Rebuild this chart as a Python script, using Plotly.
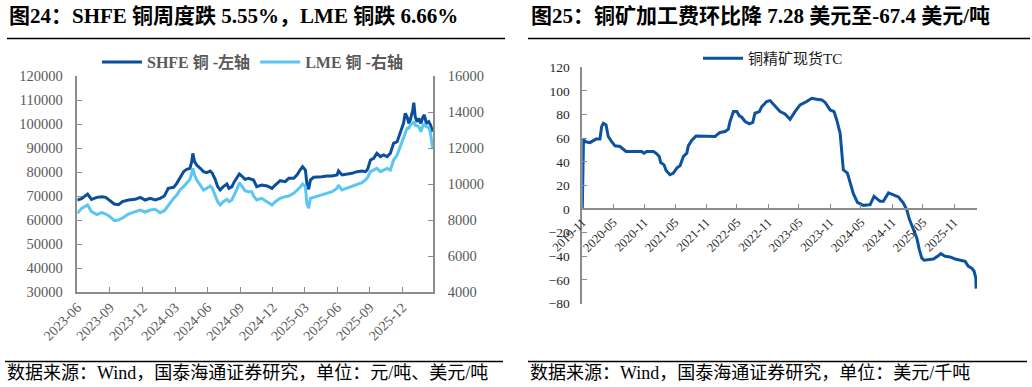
import plotly.graph_objects as go

W, H = 1032, 387


def fx(px):
    return px / W


def fy(py):
    return 1 - py / H


# ---------------- data: left chart (图24) ----------------
copper_dates = [
    "2023-06-30", "2023-07-12", "2023-07-29", "2023-08-09", "2023-08-24", "2023-09-07",
    "2023-09-18", "2023-09-30", "2023-10-12", "2023-10-24", "2023-11-04", "2023-11-21",
    "2023-12-10", "2023-12-24", "2024-01-07", "2024-01-21", "2024-02-04", "2024-02-18",
    "2024-03-01", "2024-03-12", "2024-03-27", "2024-04-05", "2024-04-14", "2024-04-24",
    "2024-05-03", "2024-05-12", "2024-05-17", "2024-05-20", "2024-05-25", "2024-05-31",
    "2024-06-10", "2024-06-19", "2024-06-28", "2024-07-08", "2024-07-14", "2024-07-22",
    "2024-07-29", "2024-08-05", "2024-08-14", "2024-08-24", "2024-08-30", "2024-09-07",
    "2024-09-14", "2024-09-21", "2024-09-28", "2024-10-05", "2024-10-14", "2024-10-24",
    "2024-11-02", "2024-11-07", "2024-11-16", "2024-11-30", "2024-12-15", "2024-12-29",
    "2025-01-07", "2025-01-21", "2025-02-04", "2025-02-14", "2025-02-28", "2025-03-09",
    "2025-03-18", "2025-03-25", "2025-04-02", "2025-04-06", "2025-04-11", "2025-04-16",
    "2025-04-25", "2025-05-04", "2025-05-18", "2025-06-02", "2025-06-16", "2025-06-30",
    "2025-07-04", "2025-07-14", "2025-07-28", "2025-08-11", "2025-08-25", "2025-09-08",
    "2025-09-18", "2025-09-24", "2025-10-02", "2025-10-11", "2025-10-20", "2025-10-30",
    "2025-11-08", "2025-11-18", "2025-11-27", "2025-12-06", "2025-12-16", "2025-12-25",
    "2026-01-03", "2026-01-08", "2026-01-13", "2026-01-18", "2026-01-22", "2026-01-29",
    "2026-02-01", "2026-02-05", "2026-02-10", "2026-02-15", "2026-02-21", "2026-02-27",
    "2026-03-03", "2026-03-08", "2026-03-15", "2026-03-20", "2026-03-26",
]
shfe_values = [
    68330, 68890, 70830, 68610, 69440, 69720,
    69440, 68050, 66660, 66380, 67640, 68330,
    68610, 69440, 68330, 69020, 68330, 69020,
    69990, 73190, 73610, 75280, 77780, 80140,
    81110, 81530, 84300, 87780, 84300, 82910,
    81530, 80140, 79720, 80410, 79440, 76940,
    73890, 72500, 73890, 75000, 73190, 73890,
    75970, 77360, 79160, 78330, 76940, 77360,
    76940, 76660, 73890, 74580, 74170, 73190,
    74580, 76390, 75970, 77360, 77360, 78750,
    80830, 82220, 80830, 75280, 72780, 76660,
    77780, 77780, 78050, 78330, 78330, 78750,
    80420, 78750, 79030, 79440, 80140, 80420,
    80140, 81110, 85000, 85690, 87780, 86390,
    87080, 86390, 87780, 91940, 92640, 96110,
    100280, 104440, 103050, 100280, 101670, 105830,
    108890, 103050, 100970, 102360, 100280, 103050,
    103750, 100280, 100970, 99580, 96800,
]
lme_values = [
    8370, 8647, 8833, 8462, 8296, 8407,
    8333, 8185, 7962, 8000, 8111, 8333,
    8462, 8555, 8444, 8555, 8592, 8407,
    8518, 8833, 9203, 9388, 9666, 9851,
    10036, 10259, 10592, 10870, 10500, 10222,
    9944, 9666, 9759, 9888, 9759, 9388,
    9018, 8833, 9018, 9148, 9018, 9111,
    9388, 9703, 10074, 9851, 9629, 9574,
    9574, 9333, 9111, 9203, 9018, 8833,
    9018, 9203, 9296, 9333, 9481, 9629,
    9814, 10000, 9851, 8925, 8647, 9203,
    9259, 9333, 9388, 9481, 9574, 9759,
    9944, 9666, 9759, 9851, 9944, 10074,
    10222, 10370, 10685, 10777, 10870, 10685,
    10777, 10870, 10777, 11333, 11611, 12074,
    12537, 12815, 13092, 13092, 13277, 13370,
    13462, 13277, 13222, 13185, 12907, 13277,
    13314, 13185, 13148, 12815, 11981,
]
left_tick_dates = [
    "2023-06-30", "2023-09-30", "2023-12-31", "2024-03-31", "2024-06-30", "2024-09-30",
    "2024-12-31", "2025-03-31", "2025-06-30", "2025-09-30", "2025-12-31",
]
left_tick_text = [
    "2023-06", "2023-09", "2023-12", "2024-03", "2024-06", "2024-09",
    "2024-12", "2025-03", "2025-06", "2025-09", "2025-12",
]

# ---------------- data: right chart (图25) ----------------
tc_dates = [
    "2019-11-01", "2019-11-08", "2019-11-17", "2019-12-16", "2020-01-21", "2020-02-13",
    "2020-02-23", "2020-03-04", "2020-03-20", "2020-04-02", "2020-04-22", "2020-05-12",
    "2020-06-10", "2020-06-30", "2020-07-16", "2020-08-28", "2020-10-16", "2020-10-30",
    "2020-11-15", "2020-12-24", "2021-01-09", "2021-01-28", "2021-02-05", "2021-02-25",
    "2021-03-09", "2021-04-01", "2021-04-21", "2021-05-11", "2021-05-30", "2021-06-19",
    "2021-07-09", "2021-07-18", "2021-08-07", "2021-09-02", "2021-10-25", "2021-12-03",
    "2021-12-23", "2022-01-02", "2022-01-21", "2022-02-20", "2022-03-11", "2022-03-21",
    "2022-04-10", "2022-04-30", "2022-05-15", "2022-05-29", "2022-06-18", "2022-07-13",
    "2022-08-02", "2022-08-15", "2022-09-10", "2022-09-24", "2022-10-23", "2022-11-12",
    "2022-12-06", "2023-01-10", "2023-02-08", "2023-03-10", "2023-04-08", "2023-05-08",
    "2023-06-16", "2023-07-16", "2023-08-14", "2023-09-13", "2023-10-02", "2023-11-01",
    "2023-11-24", "2023-12-10", "2023-12-30", "2024-01-09", "2024-01-18", "2024-02-11",
    "2024-02-27", "2024-03-17", "2024-04-10", "2024-05-15", "2024-06-24", "2024-07-17",
    "2024-08-22", "2024-09-10", "2024-10-10", "2024-11-08", "2024-12-08", "2025-01-06",
    "2025-01-26", "2025-02-10", "2025-02-25", "2025-03-10", "2025-03-26", "2025-04-10",
    "2025-04-24", "2025-05-08", "2025-06-02", "2025-07-02", "2025-07-31", "2025-08-15",
    "2025-09-09", "2025-10-08", "2025-11-07", "2025-12-06", "2026-01-05", "2026-01-24",
    "2026-02-13", "2026-02-27", "2026-03-09", "2026-03-11",
]
tc_values = [
    0.0, 59.2, 57.1, 56.2, 59.2, 59.2,
    69.8, 72.6, 71.2, 61.4, 57.1, 53.5,
    52.9, 50.6, 48.7, 48.7, 48.7, 47.3,
    48.7, 48.7, 47.3, 44.5, 39.4, 37.4,
    32.6, 29.0, 30.4, 34.6, 36.6, 44.5,
    47.3, 53.5, 58.0, 61.9, 61.9, 61.9,
    61.4, 62.8, 64.8, 65.6, 67.6, 74.1,
    82.5, 82.5, 78.9, 77.7, 74.1, 72.1,
    73.3, 81.1, 82.5, 86.7, 91.0, 91.8,
    88.2, 82.5, 80.5, 76.0, 82.5, 88.2,
    91.0, 93.8, 92.9, 92.4, 90.4, 83.9,
    82.5, 75.4, 64.2, 47.3, 33.2, 30.4,
    22.0, 13.0, 5.6, 3.1, 3.7, 10.7,
    6.5, 6.5, 13.6, 12.1, 10.2, 5.1,
    -0.6, -8.5, -14.1, -18.9, -24.5, -34.4,
    -41.4, -43.4, -42.8, -42.3, -39.5, -37.8,
    -40.0, -40.6, -42.3, -43.4, -44.3, -48.6,
    -50.0, -52.7, -58.4, -67.4,
]
right_tick_dates = [
    "2019-11-01", "2020-05-01", "2020-11-01", "2021-05-01", "2021-11-01", "2022-05-01",
    "2022-11-01", "2023-05-01", "2023-11-01", "2024-05-01", "2024-11-01", "2025-05-01",
    "2025-11-01",
]
right_tick_text = [
    "2019-11", "2020-05", "2020-11", "2021-05", "2021-11", "2022-05",
    "2022-11", "2023-05", "2023-11", "2024-05", "2024-11", "2025-05",
    "2025-11",
]

# ---------------- styles ----------------
SERIF = "Liberation Serif, Noto Sans CJK SC, serif"
AXIS_GRAY = "#8c8c8c"
LABEL_GRAY = "#595959"
DARK_BLUE = "#0a4f9c"
LIGHT_BLUE = "#5bc6f2"
TC_BLUE = "#0b53a0"

fig = go.Figure()

fig.add_trace(go.Scatter(
    x=copper_dates, y=lme_values, name="<b>LME 铜 -右轴</b>", mode="lines",
    line=dict(color=LIGHT_BLUE, width=3), xaxis="x", yaxis="y2", legend="legend",
    legendrank=2,
))
fig.add_trace(go.Scatter(
    x=copper_dates, y=shfe_values, name="<b>SHFE 铜 -左轴</b>", mode="lines",
    line=dict(color=DARK_BLUE, width=3), xaxis="x", yaxis="y", legend="legend",
    legendrank=1,
))
fig.add_trace(go.Scatter(
    x=tc_dates, y=tc_values, name="铜精矿现货TC", mode="lines",
    line=dict(color=TC_BLUE, width=3), xaxis="x3", yaxis="y3", legend="legend2",
))

left_dom = [fx(77.3), fx(433)]
left_ydom = [fy(292), fy(76)]
right_dom = [fx(582.3), fx(977)]
right_ydom = [fy(303.5), fy(67.3)]

axis_common = dict(
    showline=True, linecolor=AXIS_GRAY, linewidth=1.5, showgrid=False, zeroline=False,
    ticks="inside", ticklen=5, tickcolor=AXIS_GRAY, tickwidth=1.2, automargin=False,
)

fig.update_layout(
    width=W, height=H, autosize=False,
    margin=dict(l=0, r=0, t=0, b=0, pad=0, autoexpand=False),
    paper_bgcolor="white", plot_bgcolor="white",
    font=dict(family=SERIF, color=LABEL_GRAY),
    xaxis=dict(
        domain=left_dom, anchor="y", type="date",
        range=["2023-06-30", "2026-03-27"],
        tickmode="array", tickvals=left_tick_dates, ticktext=left_tick_text,
        tickangle=-45, tickfont=dict(size=14, color=LABEL_GRAY, family=SERIF),
        **axis_common,
    ),
    yaxis=dict(
        domain=left_ydom, anchor="x", range=[30000, 120000], dtick=10000,
        tickformat="d", ticklabelstandoff=10,
        tickfont=dict(size=14.5, color=LABEL_GRAY, family=SERIF),
        **axis_common,
    ),
    yaxis2=dict(
        overlaying="y", side="right", anchor="x", range=[4000, 16000], dtick=2000,
        tickformat="d", ticklabelstandoff=10,
        tickfont=dict(size=14.5, color=LABEL_GRAY, family=SERIF),
        **axis_common,
    ),
    xaxis3=dict(
        domain=right_dom, anchor="free", position=fy(209.3), type="date",
        range=["2019-11-01", "2026-03-16"],
        tickmode="array", tickvals=right_tick_dates, ticktext=right_tick_text,
        tickangle=-45, tickfont=dict(size=12.5, color="#262626", family=SERIF),
        **axis_common,
    ),
    yaxis3=dict(
        domain=right_ydom, anchor="x3", range=[-80, 120], dtick=20,
        ticklabelstandoff=8,
        tickfont=dict(size=13.5, color="#262626", family=SERIF),
        **axis_common,
    ),
    legend=dict(
        orientation="h", x=fx(97), y=fy(45), xanchor="left", yanchor="top",
        font=dict(size=16, color=LABEL_GRAY, family=SERIF),
        bgcolor="rgba(0,0,0,0)", itemwidth=40, traceorder="normal",
    ),
    legend2=dict(
        orientation="h", x=fx(698), y=fy(42), xanchor="left", yanchor="top",
        font=dict(size=15, color="#1a1a1a", family=SERIF),
        bgcolor="rgba(0,0,0,0)", itemwidth=40,
    ),
    showlegend=True,
)

# ---------------- titles, rules, footers ----------------
annotations = [
    dict(text="<b>图24：SHFE 铜周度跌 5.55%，LME 铜跌 6.66%</b>", x=fx(7), y=fy(16),
         xanchor="left", yanchor="middle", font=dict(size=21, color="#000000", family=SERIF)),
    dict(text="<b>图25：铜矿加工费环比降 7.28 美元至-67.4 美元/吨</b>", x=fx(529), y=fy(16),
         xanchor="left", yanchor="middle", font=dict(size=21, color="#000000", family=SERIF)),
    dict(text="数据来源：Wind，国泰海通证券研究，单位：元/吨、美元/吨", x=fx(5), y=fy(373),
         xanchor="left", yanchor="middle", font=dict(size=18, color="#000000", family=SERIF)),
    dict(text="数据来源：Wind，国泰海通证券研究，单位：美元/千吨", x=fx(528), y=fy(373),
         xanchor="left", yanchor="middle", font=dict(size=18, color="#000000", family=SERIF)),
]
for a in annotations:
    a.update(xref="paper", yref="paper", showarrow=False)
fig.update_layout(annotations=annotations)

rules = [
    (7, 505, 38.5), (528, 1030, 38.5), (5, 503, 361.5), (528, 1027, 361.5),
]
fig.update_layout(shapes=[
    dict(type="line", xref="paper", yref="paper", x0=fx(a), x1=fx(b), y0=fy(y), y1=fy(y),
         line=dict(color="#000000", width=1.5))
    for a, b, y in rules
])

fig.write_html(
    "out.html",
    config={"displayModeBar": False},
    post_script="document.body.style.margin='0';document.body.style.overflow='hidden';",
)
